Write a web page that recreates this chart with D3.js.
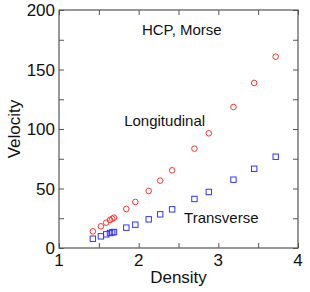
<!DOCTYPE html>
<html>
<head>
<meta charset="utf-8">
<script src="https://cdn.jsdelivr.net/npm/d3@7"></script>
<style>
  body { margin: 0; background: #fff; }
  text { font-family: "Liberation Sans", Arial, sans-serif; fill: #111; }
</style>
</head>
<body>
<div id="chart"></div>
<script>
const density = [1.425, 1.526, 1.593, 1.64, 1.668, 1.69, 1.845, 1.958, 2.126, 2.27, 2.42, 2.70, 2.88, 3.19, 3.45, 3.72]
const longitudinal = [14.0, 18.2, 21.3, 23.5, 24.6, 25.5, 32.8, 38.7, 47.9, 56.6, 65.3, 83.5, 96.4, 118.5, 138.7, 160.8]
const transverse = [7.8, 9.8, 11.5, 12.6, 13.1, 13.4, 17.1, 19.6, 24.1, 28.3, 32.5, 41.2, 47.1, 57.4, 66.6, 76.7]
const xTicks = [1, 2, 3, 4]
const yTicks = [0, 50, 100, 150, 200]

const width = 310
const height = 292
const margin = { top: 10, left: 59, right: 12, bottom: 44 }
const w = width - margin.left - margin.right
const h = height - margin.top - margin.bottom

let svg = d3.select('#chart').append('svg')
  .attr('width', width)
  .attr('height', height)
let g = svg.append('g').attr('transform', `translate(${margin.left},${margin.top})`)

let x = d3.scaleLinear().domain([1, 4]).range([0, w])
let y = d3.scaleLinear().domain([0, 200]).range([h, 0])

const axisColor = '#555'
let styleAxis = function (sel) {
  sel.select('.domain').remove()
  sel.selectAll('line').attr('stroke', axisColor)
  sel.selectAll('text').remove()
}
// inward ticks on all four sides
let xMinor = d3.range(1, 4.01, 0.5)
let yMinor = d3.range(0, 200.1, 25)
g.append('g').attr('transform', `translate(0,${h})`)
  .call(d3.axisTop(x).tickValues(xMinor).tickSize(5)).call(styleAxis)
g.append('g')
  .call(d3.axisBottom(x).tickValues(xMinor).tickSize(5)).call(styleAxis)
g.append('g')
  .call(d3.axisRight(y).tickValues(yMinor).tickSize(5)).call(styleAxis)
g.append('g').attr('transform', `translate(${w},0)`)
  .call(d3.axisLeft(y).tickValues(yMinor).tickSize(5)).call(styleAxis)

g.append('rect')
  .attr('width', w).attr('height', h)
  .attr('fill', 'none').attr('stroke', axisColor).attr('stroke-width', 1.2)

// tick labels
g.selectAll('.xlab').data(xTicks).enter().append('text')
  .attr('x', d => x(d)).attr('y', h + 18)
  .attr('text-anchor', 'middle').style('font-size', '17px')
  .text(d => d)
g.selectAll('.ylab').data(yTicks).enter().append('text')
  .attr('x', -4).attr('y', d => y(d) + 6)
  .attr('text-anchor', 'end').style('font-size', '17px')
  .text(d => d)

g.append('text').attr('x', w / 2).attr('y', h + 35)
  .attr('text-anchor', 'middle').style('font-size', '17px').text('Density')
g.append('text').attr('transform', `translate(${-39},${h / 2}) rotate(-90)`)
  .attr('text-anchor', 'middle').style('font-size', '17px').text('Velocity')

let pts = density.map((d, i) => ({ d: d, l: longitudinal[i], t: transverse[i] }))

g.selectAll('.circ').data(pts).enter().append('circle')
  .attr('cx', p => x(p.d)).attr('cy', p => y(p.l)).attr('r', 2.8)
  .attr('fill', 'none').attr('stroke', '#f33').attr('stroke-width', 1)

g.selectAll('.sq').data(pts).enter().append('rect')
  .attr('x', p => x(p.d) - 2.7).attr('y', p => y(p.t) - 2.7)
  .attr('width', 5.4).attr('height', 5.4)
  .attr('fill', 'none').attr('stroke', '#33f').attr('stroke-width', 1)

g.append('text').attr('x', x(2.541)).attr('y', y(179)).attr('text-anchor', 'middle')
  .style('font-size', '15px').text('HCP, Morse')
g.append('text').attr('x', x(2.326)).attr('y', y(102.5)).attr('text-anchor', 'middle')
  .style('font-size', '15px').text('Longitudinal')
g.append('text').attr('x', x(3.037)).attr('y', y(20.8)).attr('text-anchor', 'middle')
  .style('font-size', '15px').text('Transverse')
</script>
</body>
</html>
